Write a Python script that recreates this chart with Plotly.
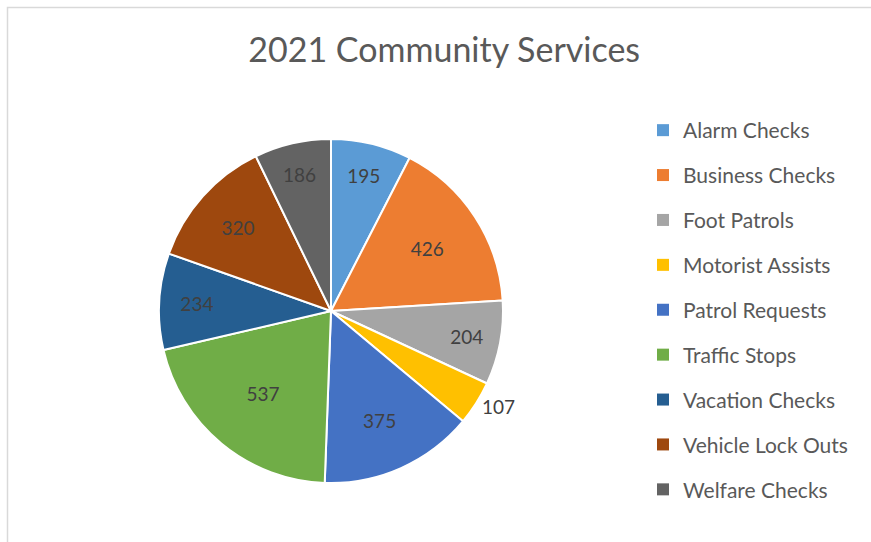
import plotly.graph_objects as go

categories = ["Alarm Checks", "Business Checks", "Foot Patrols", "Motorist Assists",
              "Patrol Requests", "Traffic Stops", "Vacation Checks",
              "Vehicle Lock Outs", "Welfare Checks"]
counts = [195, 426, 204, 107, 375, 537, 234, 320, 186]
colors = ["#5B9BD5", "#ED7D31", "#A5A5A5", "#FFC000", "#4472C4",
          "#70AD47", "#255E91", "#9E480E", "#636363"]
title_text = "2021 Community Services"

W, H = 871, 542
FONT = "Lato"

fig = go.Figure()
positions = ["outside" if v < 150 else "inside" for v in counts]
fig.add_trace(go.Pie(
    labels=categories, values=counts, sort=False, direction="clockwise",
    rotation=0, marker=dict(colors=colors, line=dict(color="white", width=2)),
    textinfo="value", textposition=positions,
    insidetextorientation="horizontal",
    textfont=dict(family=FONT, size=19, color="#404040"),
    outsidetextfont=dict(family=FONT, size=19, color="#404040"),
    insidetextfont=dict(family=FONT, size=19, color="#404040"),
    showlegend=False, hoverinfo="label+value",
    domain=dict(x=[(331 - 172) / W, (331 + 172) / W],
                y=[1 - 483 / H, 1 - 139 / H]),
))

for i, (c, col) in enumerate(zip(categories, colors)):
    fig.add_trace(go.Scatter(
        x=[None], y=[None], mode="markers", name=c,
        marker=dict(symbol="square", size=9, color=col),
        legendgroup=c, showlegend=True,
    ))

fig.update_layout(
    width=W, height=H,
    margin=dict(l=0, r=0, t=0, b=0),
    paper_bgcolor="white", plot_bgcolor="white",
    title=dict(text=title_text, x=0.51, xanchor="center", y=1 - 50 / H, yanchor="middle",
               font=dict(family=FONT, size=34, color="#595959")),
    xaxis=dict(visible=False), yaxis=dict(visible=False),
    legend=dict(x=643 / W, xanchor="left", y=1 - 110 / H, yanchor="top",
                font=dict(family=FONT, size=21, color="#595959"),
                tracegroupgap=14.6, itemsizing="constant", bgcolor="rgba(0,0,0,0)"),
    shapes=[dict(type="rect", xref="paper", yref="paper",
                 x0=7.5 / W, x1=1.2, y0=-0.2, y1=1 - 7.5 / H,
                 line=dict(color="#D9D9D9", width=1.5), fillcolor="rgba(0,0,0,0)",
                 layer="below")],
)

fig.write_html("out.html", config={"displayModeBar": False},
               post_script="document.body.style.margin='0';")
